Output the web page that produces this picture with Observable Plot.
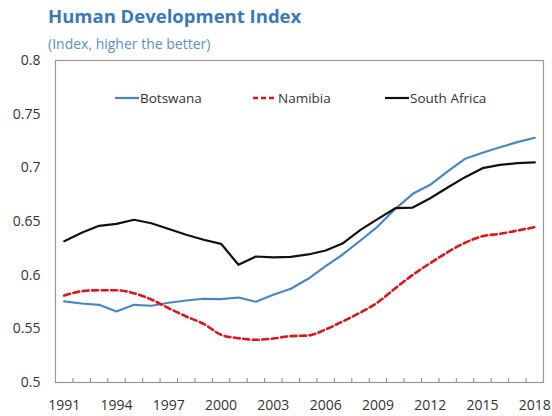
<!DOCTYPE html>
<html>
<head>
<meta charset="utf-8">
<script src="https://cdn.jsdelivr.net/npm/d3@7"></script>
<script src="https://cdn.jsdelivr.net/npm/@observablehq/plot@0.6"></script>
<style>
  body { margin: 0; background: #fff; font-family: "Open Sans", sans-serif; }
  #wrap { position: relative; width: 552px; height: 416px; overflow: hidden; }
  #head { height: 52px; position: relative; }
  #title { position: absolute; left: 48px; top: 3px; font-size: 18.5px; font-weight: 700; color: #3b78b5; white-space: nowrap; }
  #subtitle { position: absolute; left: 48px; top: 34px; font-size: 14px; color: #5b8fc3; white-space: nowrap; }
  #legend { position: absolute; top: 88px; left: 0; font-size: 13.5px; color: #333; }
  .item { position: absolute; display: flex; align-items: center; white-space: nowrap; }
  .item svg { margin-right: 1px; }
  #chart svg { overflow: visible; }
</style>
</head>
<body>
<div id="wrap">
  <div id="head">
    <div id="title">Human Development Index</div>
    <div id="subtitle">(Index, higher the better)</div>
  </div>
  <div id="chart"></div>
  <div id="legend"></div>
</div>
<script>
const years = [1991,1992,1993,1994,1995,1996,1997,1998,1999,2000,2001,2002,2003,2004,2005,2006,2007,2008,2009,2010,2011,2012,2013,2014,2015,2016,2017,2018];
const botswana = [0.5755,0.5736,0.5724,0.5662,0.5724,0.5715,0.5743,0.5764,0.578,0.5776,0.5792,0.5752,0.5817,0.5873,0.5966,0.6084,0.6195,0.6323,0.6455,0.6618,0.6758,0.6842,0.6966,0.7084,0.714,0.7192,0.7239,0.728];
const namibia = [0.581,0.585,0.586,0.586,0.5832,0.5773,0.5692,0.5615,0.5546,0.5445,0.5413,0.5398,0.541,0.5432,0.5438,0.5494,0.5571,0.5652,0.5748,0.5879,0.6003,0.6112,0.6214,0.6302,0.6363,0.6385,0.6416,0.6447];
const southAfrica = [0.6317,0.6395,0.646,0.6478,0.6516,0.6484,0.643,0.6376,0.633,0.6292,0.6097,0.6174,0.6165,0.6171,0.6193,0.623,0.6298,0.6422,0.6525,0.6624,0.663,0.6717,0.6817,0.6913,0.6997,0.7028,0.7043,0.705];
const xTickLabels = [1991,1994,1997,2000,2003,2006,2009,2012,2015,2018];
const yTicks = [0.5,0.55,0.6,0.65,0.7,0.75,0.8];
const seriesNames = ["Botswana","Namibia","South Africa"];

const colors = {"Botswana": "#4a87c0", "Namibia": "#d7191c", "South Africa": "#111111"};

const rows = (name, vals) => years.map((y, i) => ({year: y, value: vals[i], series: name}));
const bw = rows("Botswana", botswana);
const nm = rows("Namibia", namibia);
const sa = rows("South Africa", southAfrica);
const boundaries = years.slice(0, -1).map(y => y + 0.5);

const chart = Plot.plot({
  width: 552,
  height: 364,
  marginTop: 8,
  marginBottom: 34,
  marginLeft: 55,
  marginRight: 9,
  style: {fontFamily: "Open Sans, sans-serif", fontSize: "14px", color: "#333", background: "#fff", overflow: "visible"},
  x: {domain: [years[0] - 0.5, years[years.length - 1] + 0.5]},
  y: {domain: [0.5, 0.8]},
  marks: [
    Plot.frame({stroke: "#999", strokeWidth: 1.2}),
    Plot.axisY({ticks: yTicks, tickSize: 0, tickPadding: 15, tickFormat: d => String(+d.toFixed(2)), label: null, fontSize: 14}),
    Plot.axisX({ticks: boundaries, tickSize: 4, dy: -4, text: null, label: null, stroke: "#888"}),
    Plot.axisX({ticks: xTickLabels, tickSize: 0, tickPadding: 18, tickFormat: d => String(d), label: null, fontSize: 14}),
    Plot.line(bw, {x: "year", y: "value", stroke: colors["Botswana"], strokeWidth: 2.2}),
    Plot.line(nm, {x: "year", y: "value", stroke: colors["Namibia"], strokeWidth: 2.6, strokeDasharray: "6,3.5", curve: "monotone-x"}),
    Plot.line(sa, {x: "year", y: "value", stroke: colors["South Africa"], strokeWidth: 2.2})
  ]
});
document.getElementById("chart").appendChild(chart);

// legend
const legendPos = {"Botswana": 115, "Namibia": 253, "South Africa": 385};
const legend = document.getElementById("legend");
seriesNames.forEach(name => {
  const item = document.createElement("div");
  item.className = "item";
  item.style.left = legendPos[name] + "px";
  const dash = name === "Namibia" ? 'stroke-dasharray="5,3"' : "";
  const sw = name === "Namibia" ? 2.6 : 2.2;
  item.innerHTML = `<svg width="24" height="20"><line x1="0" x2="24" y1="10" y2="10" stroke="${colors[name]}" stroke-width="${sw}" ${dash}/></svg><span>${name}</span>`;
  legend.appendChild(item);
});
</script>
</body>
</html>
